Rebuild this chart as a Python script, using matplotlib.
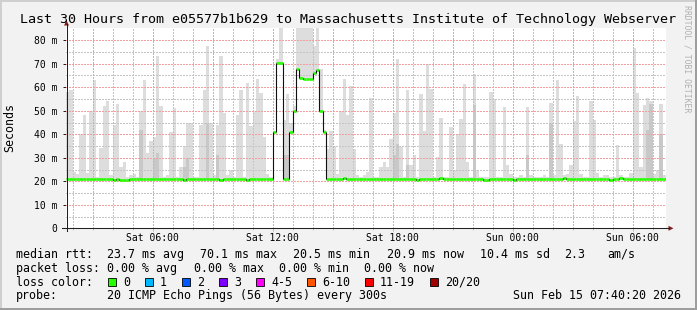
import matplotlib
matplotlib.use('Agg')
import matplotlib.pyplot as plt
from matplotlib.transforms import Affine2D
from matplotlib.patches import Rectangle, Polygon
from matplotlib.lines import Line2D
import numpy as np

plt.rcParams['font.family'] = ['DejaVu Sans Mono']

# ---------------- data ----------------
t_start = 1 + 40 / 60 + 20 / 3600      # Sat 01:40:20 (hours since Sat 00:00)
span_hours = 30
step_hours = 1 / 6                      # 10 minute bins

median = [
    21.0, 21.0, 21.1, 21.0, 21.0, 21.1, 21.0, 20.9, 21.0, 21.0, 21.1, 21.0, 21.0, 20.9, 20.7,
    21.0, 20.6, 20.7, 20.6, 20.8, 21.0, 21.0, 21.1, 21.0, 21.0, 20.9, 21.0, 21.1, 21.0, 21.0,
    21.0, 21.0, 21.1, 21.0, 21.0, 20.6, 21.0, 21.0, 21.1, 21.0, 21.0, 21.0, 20.9, 21.0, 20.8,
    21.0, 20.6, 21.0, 21.0, 21.0, 21.0, 21.1, 21.0, 21.0, 20.6, 21.0, 21.0, 21.1, 21.0, 21.0,
    21.0, 21.0, 41.0, 70.4, 70.4, 21.0, 21.0, 41.0, 50.0, 67.6, 64.0, 63.7, 63.5, 63.7, 66.2,
    67.3, 50.0, 41.0, 21.0, 21.0, 21.0, 21.1, 21.0, 21.3, 21.0, 21.0, 21.0, 21.1, 21.0, 21.0,
    21.0, 21.0, 21.0, 21.0, 21.1, 21.0, 21.0, 21.0, 21.0, 21.0, 21.0, 21.1, 21.0, 21.0, 21.0,
    20.7, 21.0, 21.0, 21.0, 21.0, 21.0, 21.0, 21.2, 21.0, 21.0, 21.0, 21.0, 21.0, 21.0, 21.0,
    21.0, 21.0, 21.0, 21.0, 21.0, 20.6, 20.6, 21.0, 21.0, 21.0, 21.0, 21.0, 21.0, 21.0, 20.7,
    21.0, 21.0, 21.0, 21.1, 21.0, 21.0, 21.0, 21.0, 21.0, 21.0, 21.0, 21.0, 21.0, 21.0, 21.2,
    21.0, 21.0, 21.0, 21.0, 21.0, 21.0, 21.0, 21.0, 21.0, 21.0, 21.0, 21.0, 21.0, 20.6, 20.8,
    21.0, 21.3, 21.0, 21.0, 21.0, 21.1, 21.0, 21.0, 21.0, 21.0, 21.0, 21.0, 21.0, 21.0, 21.0,
]

smoke_hi = [
    58, 59, 24, 23, 40, 48, 23.5, 50, 63, 22, 34, 52, 54, 22.5, 44,
    53, 26, 28, 22, 22.5, 23, 22, 50, 63, 32, 37, 39, 73.5, 52, 22,
    22.5, 41, 51, 22, 26, 35, 45, 45, 22, 22, 44, 59, 77.7, 45, 22.5,
    44, 73.5, 49, 22.5, 25, 22, 48, 58.7, 22, 61.7, 43.7, 50, 63.7, 57.7, 39,
    23, 22, 41, 72, 86, 46, 57, 45, 52, 86, 86, 86, 86, 86, 77.7,
    86, 67.6, 42, 33.8, 41.5, 35, 23, 50, 63.4, 48, 60.6, 33.8, 22.5, 22, 22.5,
    24, 55.6, 22, 22, 26, 28, 26, 38, 48.9, 72, 34.5, 22, 59, 26.8, 31,
    22, 57, 41.5, 70, 59.4, 22, 30.3, 46.8, 22, 22, 43, 25, 40, 46.5, 61.3,
    28, 22, 65.8, 25, 22, 22, 22, 58, 55.2, 22, 22, 51.8, 26.8, 23, 22,
    22, 22.5, 22, 51.4, 22.5, 22, 22, 22, 22.5, 22, 53.5, 22.5, 63, 36, 22.5,
    23, 26.8, 45.5, 56.3, 23, 22, 22, 54.2, 46.2, 23.6, 22, 22.5, 22.5, 22, 22,
    35.5, 22.5, 22, 22, 23.5, 76.8, 57.7, 26, 52.4, 55.6, 54.2, 23, 25, 52.8, 22.5,
]

dark_bins = [22, 26, 27, 35, 36, 42, 45, 65, 66, 98, 99, 102, 122, 138, 145, 174, 175, 178]
dark_hi = [42, 30, 32, 26, 30, 45, 31, 31, 31, 31, 36, 27, 52.6, 31, 45, 42, 53, 40]

x_tick_hours = [6, 12, 18, 24, 30]
x_tick_labels = ['Sat 06:00', 'Sat 12:00', 'Sat 18:00', 'Sun 00:00', 'Sun 06:00']
y_ticks = [0, 10, 20, 30, 40, 50, 60, 70, 80]
y_tick_labels = ['0', '10 m', '20 m', '30 m', '40 m', '50 m', '60 m', '70 m', '80 m']

title = 'Last 30 Hours from e05577b1b629 to Massachusetts Institute of Technology Webserver'
rtt_items = ['median rtt:', '23.7 ms avg', '70.1 ms max', '20.5 ms min', '20.9 ms now',
             '10.4 ms sd', '2.3', 'am/s']
rtt_x = [16, 107, 200, 293, 387, 480, 564, 607]
loss_items = ['packet loss:', '0.00 % avg', '0.00 % max', '0.00 % min', '0.00 % now']
loss_x = [16, 107, 194, 279, 364]
loss_color_labels = ['0', '1', '2', '3', '4-5', '6-10', '11-19', '20/20']
loss_colors = ['#26ff00', '#00b8ff', '#0059ff', '#7e00ff', '#ff00ff', '#ff5500', '#ff0000', '#a10000']
loss_box_x = [108, 145, 182, 219, 256, 307, 365, 430]
probe_text = '20 ICMP Echo Pings (56 Bytes) every 300s'
date_text = 'Sun Feb 15 07:40:20 2026'

# ---------------- figure ----------------
W, H = 697, 310
fig = plt.figure(figsize=(W / 100, H / 100), dpi=100, facecolor='#f2f2f2')
pxT = Affine2D().scale(1 / W, -1 / H).translate(0, 1) + fig.transFigure

ax = fig.add_axes([66 / W, (H - 228.3) / H, 600 / W, 200.3 / H])
ax.set_facecolor('white')
ax.set_xlim(t_start, t_start + span_hours)
ax.set_ylim(0, 85.2)
for s in ax.spines.values():
    s.set_visible(False)

med = np.array(median)
hi = np.array(smoke_hi)
edges = t_start + np.arange(len(med) + 1) * step_hours
lo = med - 0.5
ax.bar(edges[:-1], hi - lo, bottom=lo, width=step_hours, align='edge',
       color='#dddddd', linewidth=0, zorder=1)
di = np.array(dark_bins)
ax.bar(edges[di], np.array(dark_hi) - lo[di], bottom=lo[di], width=step_hours,
       align='edge', color='#c8c8c8', linewidth=0, zorder=1.5)

# grid (dotted, 1px on / 1px off)
grid_c = '#c4c4c4'
mgrid_c = '#f0a0a0'
minor_y = [5, 15, 25, 35, 45, 55, 65, 75]
major_y = [10, 20, 30, 40, 50, 60, 70, 80]
hours = np.arange(2, 32)
minor_x = [h for h in hours if h % 3 != 0]
major_x = [h for h in hours if h % 3 == 0]
gkw = dict(linestyle=(0, (1.4, 1.4)), lw=0.72, antialiased=False)
for yv in minor_y:
    ax.axhline(yv, color=grid_c, zorder=2, **gkw)
for xv in minor_x:
    ax.axvline(xv, color=grid_c, zorder=2, **gkw)
for yv in major_y:
    ax.axhline(yv, color=mgrid_c, zorder=2.1, **gkw)
for xv in major_x:
    ax.axvline(xv, color=mgrid_c, zorder=2.1, **gkw)

# median line
ax.hlines(med, edges[:-1], edges[1:], colors='#26ff00', lw=1.9, zorder=3)
ax.vlines(edges[1:-1], med[:-1], med[1:], colors='#101010', lw=0.8, zorder=4)

# ticks
ax.set_xticks(x_tick_hours, x_tick_labels)
ax.set_xticks(minor_x + [h for h in major_x if h not in x_tick_hours], minor=True)
ax.tick_params(axis='x', which='major', length=2, width=0.72, color=mgrid_c,
               pad=1.2, labelsize=7)
ax.tick_params(axis='x', which='minor', length=1.5, width=0.72, color=grid_c)
ax.set_yticks(y_ticks, y_tick_labels)
ax.tick_params(axis='y', which='major', length=2, width=0.72, color='#1f1f1f',
               pad=4, labelsize=7)

# axes lines and arrows
fig.add_artist(Line2D([62, 669], [228.3, 228.3], transform=pxT, color='#1f1f1f', lw=0.75))
fig.add_artist(Line2D([66.5, 66.5], [231, 24], transform=pxT, color='#1f1f1f', lw=0.75))
fig.add_artist(Polygon([[64, 25.5], [69, 25.5], [66.5, 20.5]], closed=True,
                       transform=pxT, color='#801f1f', lw=0))
fig.add_artist(Polygon([[668.5, 225.8], [668.5, 230.8], [673.5, 228.3]], closed=True,
                       transform=pxT, color='#801f1f', lw=0))

# frame
fig.add_artist(Line2D([0, W], [0.7, 0.7], transform=pxT, color='#cfcfcf', lw=1.44))
fig.add_artist(Line2D([0.7, 0.7], [0, H], transform=pxT, color='#cfcfcf', lw=1.44))
fig.add_artist(Line2D([0, W], [H - 0.7, H - 0.7], transform=pxT, color='#9e9e9e', lw=1.44))
fig.add_artist(Line2D([W - 0.7, W - 0.7], [0, H], transform=pxT, color='#9e9e9e', lw=1.44))

# texts
fig.text(348.5, 19.3, title, transform=pxT, ha='center', va='center', fontsize=9.6)
fig.text(10, 128, 'Seconds', transform=pxT, ha='center', va='center',
         rotation=90, fontsize=8.4)
fig.text(687, 59, 'RRDTOOL / TOBI OETIKER', transform=pxT, ha='center', va='center',
         rotation=270, fontsize=5.9, color='#b0b0b0')

leg_fs = 8.4
for s, x in zip(rtt_items, rtt_x):
    fig.text(x, 254.3, s, transform=pxT, ha='left', va='center', fontsize=leg_fs)
for s, x in zip(loss_items, loss_x):
    fig.text(x, 268.3, s, transform=pxT, ha='left', va='center', fontsize=leg_fs)
fig.text(16, 282.3, 'loss color:', transform=pxT, ha='left', va='center', fontsize=leg_fs)
for lab, c, x in zip(loss_color_labels, loss_colors, loss_box_x):
    fig.add_artist(Rectangle((x, 278.3), 8, 8, transform=pxT, facecolor=c,
                             edgecolor='black', lw=0.6))
    fig.text(x + 15, 282.3, lab, transform=pxT, ha='left', va='center', fontsize=leg_fs)
fig.text(16, 295.7, 'probe:', transform=pxT, ha='left', va='center', fontsize=leg_fs)
fig.text(107, 295.7, probe_text, transform=pxT, ha='left', va='center', fontsize=leg_fs)
fig.text(513, 295.7, date_text, transform=pxT, ha='left', va='center', fontsize=leg_fs)

fig.savefig('out.png', dpi=100, facecolor=fig.get_facecolor())
